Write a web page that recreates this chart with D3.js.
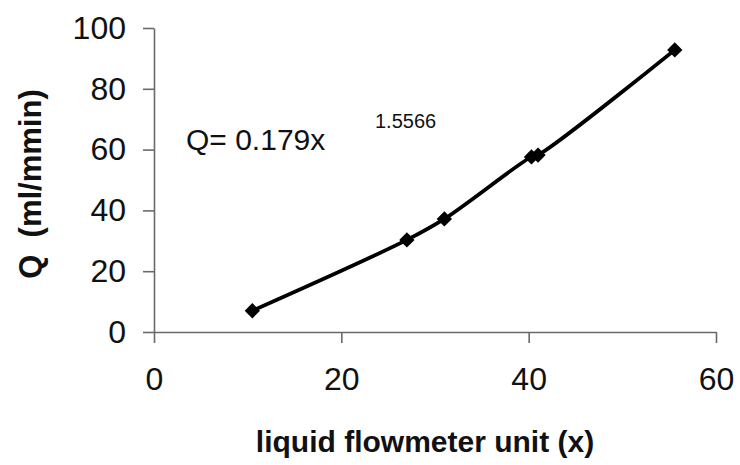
<!DOCTYPE html>
<html>
<head>
<meta charset="utf-8">
<script src="https://cdn.jsdelivr.net/npm/d3@7"></script>
<style>
  html, body { margin: 0; padding: 0; background: #fff; }
  svg { display: block; }
  text { font-family: "Liberation Sans", Arial, Helvetica, sans-serif; fill: #111; }
</style>
</head>
<body>
<div id="chart"></div>
<script>
// Flowmeter calibration: reading vs. measured flow rate
const flowmeterUnits = [10.5, 27, 31, 40.3, 41, 55.6];
const flowRates = [7, 30.3, 37.2, 57.6, 58.2, 92.8];
const xTickValues = [0, 20, 40, 60];
const yTickValues = [0, 20, 40, 60, 80, 100];
const fitLabel = "Q= 0.179x";
const fitExponent = "1.5566";

const width = 740, height = 465;
const margin = { left: 154, right: 24, top: 28, bottom: 133 };

const svg = d3.select("#chart").append("svg")
  .attr("width", width).attr("height", height);

const x = d3.scaleLinear().domain([0, 60]).range([margin.left, width - margin.right]);
const y = d3.scaleLinear().domain([0, 100]).range([height - margin.bottom, margin.top]);

const axisColor = "#6a6a6a";

// y axis
const yAxis = svg.append("g")
  .attr("transform", `translate(${x(0)},0)`)
  .call(d3.axisLeft(y).tickValues(yTickValues).tickSize(11).tickPadding(17).tickSizeOuter(0));
// x axis
const xAxis = svg.append("g")
  .attr("transform", `translate(0,${y(0)})`)
  .call(d3.axisBottom(x).tickValues(xTickValues).tickSize(11).tickPadding(24).tickSizeOuter(0));

[yAxis, xAxis].forEach(g => {
  g.select(".domain").attr("stroke", axisColor).attr("stroke-width", 1.6);
  g.selectAll(".tick line").attr("stroke", axisColor).attr("stroke-width", 1.6);
  g.selectAll(".tick text").attr("font-size", 32).attr("fill", "#111")
    .style("font-family", '"Liberation Sans", Arial, sans-serif');
});
xAxis.selectAll(".tick text").attr("dy", "0.71em");

// connecting line
const line = d3.line()
  .x((d, i) => x(flowmeterUnits[i]))
  .y(d => y(d))
  .curve(d3.curveCatmullRom.alpha(0.5));

svg.append("path")
  .datum(flowRates)
  .attr("d", line)
  .attr("fill", "none")
  .attr("stroke", "#000")
  .attr("stroke-width", 3.8)
  .attr("stroke-linejoin", "round");

// diamond markers
const diamond = d3.symbol().type(d3.symbolDiamond2).size(150);
svg.append("g").selectAll("path")
  .data(flowRates)
  .join("path")
  .attr("transform", (d, i) => `translate(${x(flowmeterUnits[i])},${y(d)})`)
  .attr("d", diamond)
  .attr("fill", "#000");

// fitted equation
svg.append("text")
  .attr("x", 186).attr("y", 150)
  .attr("font-size", 30)
  .text(fitLabel);
svg.append("text")
  .attr("x", 375).attr("y", 128)
  .attr("font-size", 20)
  .text(fitExponent);

// axis titles
svg.append("text")
  .attr("x", 425).attr("y", 452)
  .attr("text-anchor", "middle")
  .attr("font-size", 30)
  .attr("font-weight", "bold")
  .text("liquid flowmeter unit (x)");

svg.append("text")
  .attr("transform", "translate(41,184) rotate(-90)")
  .attr("text-anchor", "middle")
  .attr("font-size", 31)
  .attr("font-weight", "bold")
  .attr("xml:space", "preserve")
  .style("white-space", "pre")
  .text("Q  (ml/mmin)");
</script>
</body>
</html>
